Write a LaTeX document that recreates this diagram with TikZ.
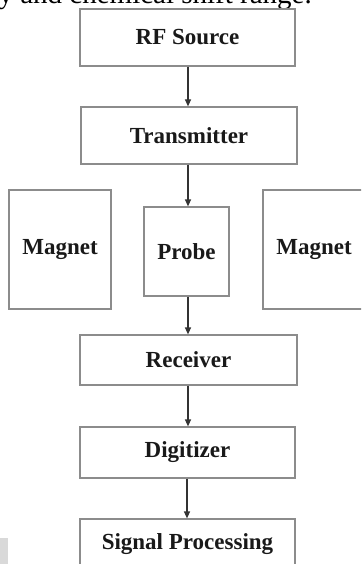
\documentclass[tikz,border=0pt]{standalone}
\usepackage{fontspec}
\setmainfont{Liberation Serif}
\usetikzlibrary{arrows.meta}
\tikzset{
  blk/.style={draw=black!45, line width=1.2pt, fill=white, inner sep=0pt,
    font=\fontsize{23}{26}\selectfont\bfseries, text=black!90},
  arr/.style={draw=black!80, line width=1.2pt, -{Triangle[length=7pt,width=6pt]}},
}
\begin{document}
\begin{tikzpicture}[x=1pt,y=-1pt]
\useasboundingbox (0,0) rectangle (361,564);
\clip (0,0) rectangle (361,564);
% cropped caption text at the top
\node[anchor=base east, inner sep=0pt, font=\fontsize{29}{32}\selectfont] (cap) at (312,3.5) {y and chemical shift range.};
% blocks
\node[blk, minimum width=215pt, minimum height=57pt] (rf) at (187.5,37.5) {RF Source};
\node[blk, minimum width=216pt, minimum height=57pt] (tr) at (189,135.5) {Transmitter};
\node[blk, minimum width=102pt, minimum height=119pt] (ml) at (60,249.5) {Magnet};
\node[blk, minimum width=85pt, minimum height=89pt] (pr) at (186.5,251.5) {Probe};
\node[blk, minimum width=120pt, minimum height=119pt] (mr) at (323,249.5) {\hspace*{-18pt}Magnet};
\node[blk, minimum width=217pt, minimum height=50pt] (rx) at (188.5,360) {Receiver};
\node[blk, minimum width=215pt, minimum height=51pt] (dg) at (187.5,452.5) {Digitizer};
\node[blk, minimum width=215pt, minimum height=51pt] (sp) at (187.5,544.5) {Signal Processing};
% grey patch bottom left
\fill[black!15] (0,538) rectangle (8,564);
% arrows
\coordinate (c1) at (188,66);
\draw[arr] (rf.south -| c1) -- (tr.north -| c1);
\draw[arr] (tr.south -| c1) -- (pr.north -| c1);
\draw[arr] (pr.south -| c1) -- (rx.north -| c1);
\draw[arr] (rx.south -| c1) -- (dg.north -| c1);
\coordinate (c2) at (187,478);
\draw[arr] (dg.south -| c2) -- (sp.north -| c2);
\end{tikzpicture}
\end{document}
